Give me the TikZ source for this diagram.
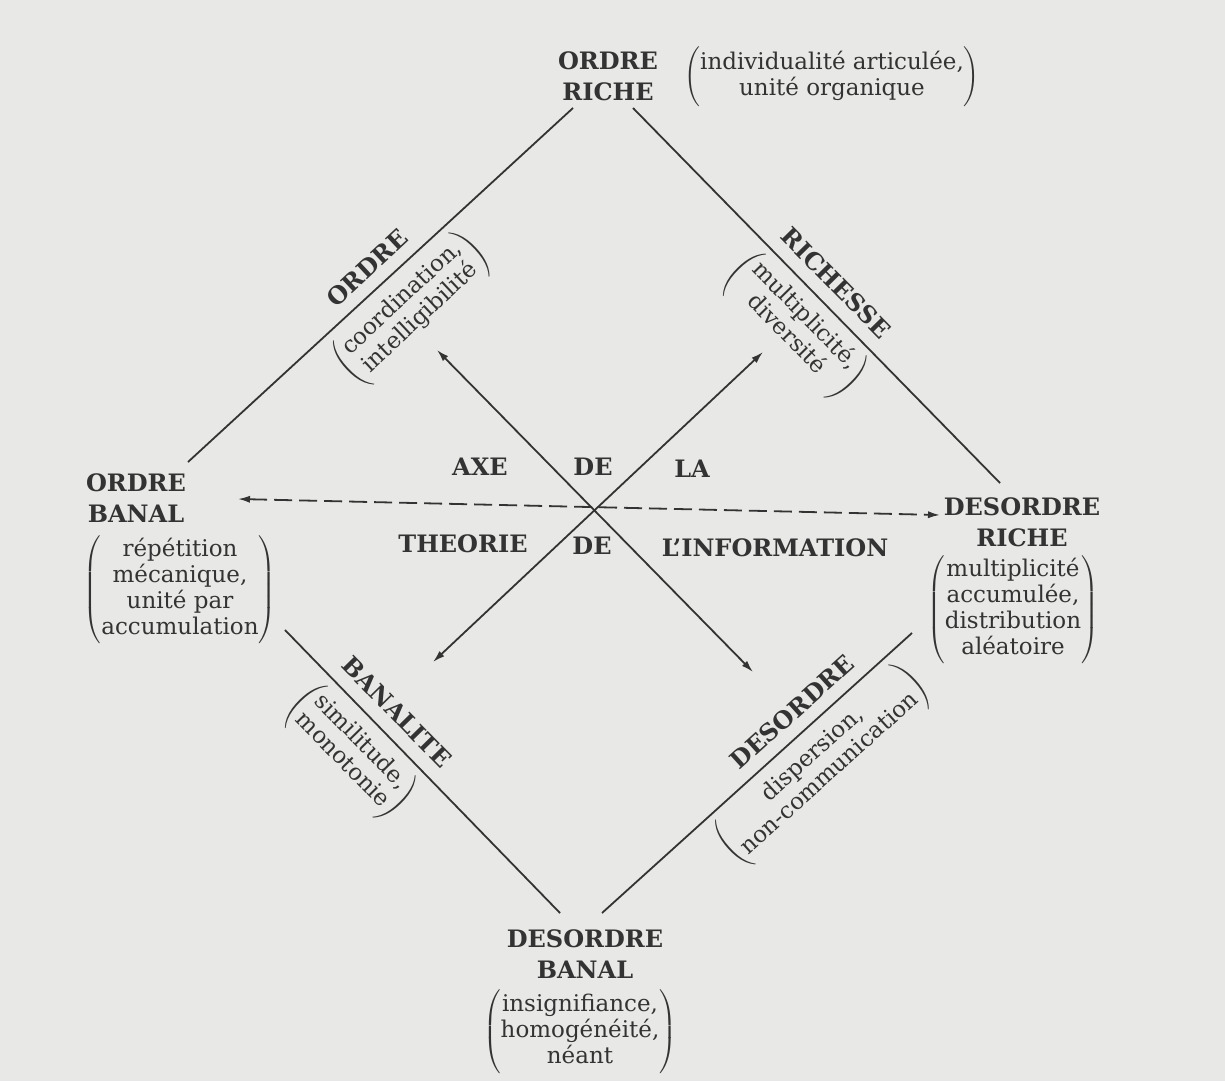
\documentclass[tikz,border=0pt]{standalone}
\usepackage{fontspec}
\setmainfont{DejaVu Serif}
\usetikzlibrary{arrows.meta}
\definecolor{ink}{HTML}{333333}
\definecolor{paper}{HTML}{E8E8E6}
\newcommand{\LabelFont}{\bfseries\fontsize{12}{15.5}\selectfont}
\newcommand{\GlossFont}{\fontsize{11.5}{13}\selectfont}
\newcommand{\Gloss}[1]{%
  \setbox0\hbox{\begin{tabular}{@{}c@{}}#1\end{tabular}}%
  $\left(\vcenter{\hbox{\vrule width 0pt height \dimexpr\ht0+3pt\relax depth \dimexpr\dp0+3pt\relax\box0}}\right)$}
\newcommand{\PxW}{0.5pt}

\begin{document}
\begin{tikzpicture}[x=\PxW, y=-\PxW, ink,
  corner/.style={font=\LabelFont, align=center, inner sep=1pt},
  gloss/.style={font=\GlossFont, inner sep=0pt},
  side/.style={line width=0.9pt},
  axis/.style={line width=0.9pt, {Latex[length=6pt,width=3.6pt]}-{Latex[length=6pt,width=3.6pt]}}]

\useasboundingbox[fill=paper] (0,0) rectangle (1225,1081);

% --- Corners of the square -----------------------------------------------------
\node[corner] (oriche) at (608,76) {ORDRE\\RICHE};
\node[gloss] (oriche-g) at (832,77) {\Gloss{individualité articulée,\\unité organique}};
\node[corner] (obanal) at (136,498) {ORDRE\\BANAL};
\node[gloss] (obanal-g) at (180,590) {\Gloss{répétition\\mécanique,\\unité par\\accumulation}};
\node[corner] (driche) at (1022,522) {DESORDRE\\RICHE};
\node[gloss] (driche-g) at (1013,610) {\Gloss{multiplicité\\accumulée,\\distribution\\aléatoire}};
\node[corner] (dbanal) at (585,954) {DESORDRE\\BANAL};
\node[gloss] (dbanal-g) at (580,1032) {\Gloss{insignifiance,\\homogénéité,\\néant}};

% --- Sides, with their names ------------------------------------------------------
\coordinate (tl-a) at (188,462);  \coordinate (tl-b) at (573,108);
\coordinate (tr-a) at (633,108);  \coordinate (tr-b) at (1000,483);
\coordinate (bl-a) at (285,630);  \coordinate (bl-b) at (560,913);
\coordinate (br-a) at (912,633);  \coordinate (br-b) at (602,913);
\draw[side] (tl-a) -- (tl-b);
\draw[side] (tr-a) -- (tr-b);
\draw[side] (bl-a) -- (bl-b);
\draw[side] (br-a) -- (br-b);

\node[corner, rotate=43] (ordre) at (367,268) {ORDRE};
\node[gloss, rotate=43] (ordre-g) at (412,309) {\Gloss{coordination,\\intelligibilité}};
\node[corner, rotate=-45.5] (richesse) at (836,283) {RICHESSE};
\node[gloss, rotate=-45.5] (richesse-g) at (795,326) {\Gloss{multiplicité,\\diversité}};
\node[corner, rotate=-45.5] (banalite) at (397,712) {BANALITE};
\node[gloss, rotate=-45.5] (banalite-g) at (351,752) {\Gloss{similitude,\\monotonie}};
\node[corner, rotate=42] (desordre) at (792,712) {DESORDRE};
\node[gloss, rotate=42] (desordre-g) at (822,765) {\Gloss{dispersion,\\non-communication}};

% --- The two diagonals and the axis ------------------------------------------------
\coordinate (ul) at (437,350);  \coordinate (dr) at (753,672);
\coordinate (dl) at (433,662);  \coordinate (ur) at (763,352);
\coordinate (axis-w) at (238,499);  \coordinate (axis-e) at (940,515);
\draw[axis] (ul) -- (dr);
\draw[axis] (dl) -- (ur);
\draw[axis, dash pattern=on 9pt off 3.5pt] (axis-w) -- (axis-e);

\node[corner] (axe) at (480,467) {AXE};
\node[corner] (de-a) at (593,467) {DE};
\node[corner] (la) at (692,469) {LA};
\node[corner] (theorie) at (463,544) {THEORIE};
\node[corner] (de-b) at (592,546) {DE};
\node[corner] (info) at (775,548) {L’INFORMATION};

\end{tikzpicture}
\end{document}
